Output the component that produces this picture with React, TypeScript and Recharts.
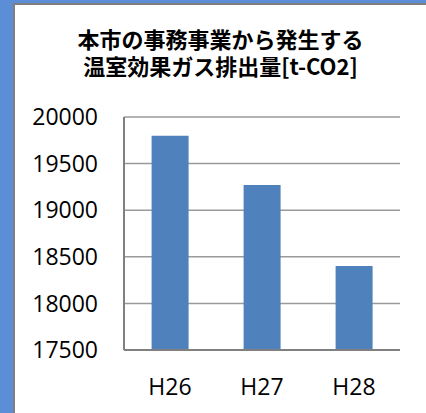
import { Bar, BarChart, CartesianGrid, XAxis, YAxis } from "recharts";

const years = ["H26", "H27", "H28"];
const emissions = [19800, 19270, 18400];
const yTicks = [17500, 18000, 18500, 19000, 19500, 20000];
const titleLines = ["本市の事務事業から発生する", "温室効果ガス排出量[t-CO2]"];

const data = years.map((name, i) => ({ name, value: emissions[i] }));

const tickFont = { fontFamily: "'Open Sans', 'Noto Sans', sans-serif", fontSize: 23, fill: "#000" };

export default function App() {
	return (
		<div
			style={{
				position: "fixed",
				left: 0,
				top: 0,
				width: 426,
				height: 413,
				background: "#5b8ed6",
				overflow: "hidden",
			}}
		>
			<div
				style={{
					position: "absolute",
					left: 13,
					top: 3,
					width: 413,
					height: 410,
					background: "#fff",
					borderLeft: "2px solid #7f7f7f",
					borderTop: "2px solid #7f7f7f",
					boxSizing: "border-box",
				}}
			/>
			<div
				style={{
					position: "absolute",
					left: 15,
					width: 411,
					top: 25,
					textAlign: "center",
					fontFamily: "'Noto Sans CJK JP', sans-serif",
					fontWeight: 700,
					fontSize: 22,
					lineHeight: "27px",
					color: "#000",
					whiteSpace: "nowrap",
				}}
			>
				{titleLines[0]}
				<br />
				{titleLines[1]}
			</div>
			<div style={{ position: "absolute", left: 15, top: 4 }}>
				<BarChart
					width={411}
					height={409}
					data={data}
					margin={{ top: 113, right: 26, bottom: 0, left: 0 }}
					barCategoryGap="30%"
				>
					<CartesianGrid vertical={false} stroke="#9a9a9a" strokeWidth={1.5} />
					<XAxis
						dataKey="name"
						height={63}
						tickLine={false}
						tickSize={0}
						tickMargin={29}
						axisLine={{ stroke: "#808080", strokeWidth: 2 }}
						tick={tickFont}
					/>
					<YAxis
						width={109}
						domain={[17500, 20000]}
						ticks={yTicks}
						allowDataOverflow
						tickLine={false}
						tickSize={0}
						tickMargin={26}
						axisLine={{ stroke: "#808080", strokeWidth: 2 }}
						tick={tickFont}
					/>
					<Bar dataKey="value" fill="#4f81bd" isAnimationActive={false} />
				</BarChart>
			</div>
		</div>
	);
}
